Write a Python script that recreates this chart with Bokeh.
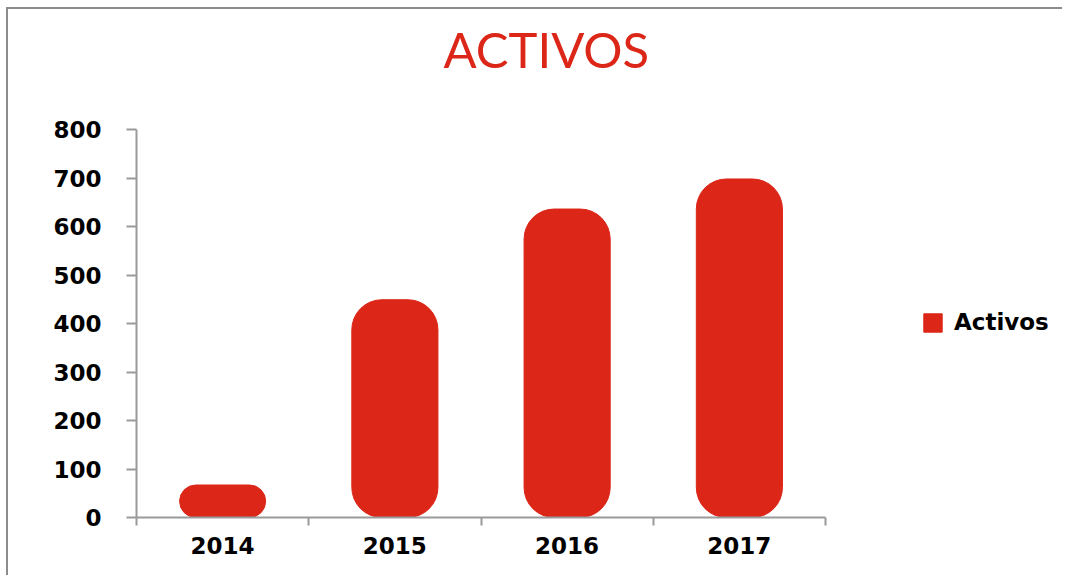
from bokeh.plotting import figure
from bokeh.models import Range1d, FixedTicker, Legend, LegendItem, Title
from bokeh.embed import file_html
from bokeh.resources import INLINE

# ---- data ----
years = ["2014", "2015", "2016", "2017"]
activos = [67, 449, 636, 698]
y_ticks = [0, 100, 200, 300, 400, 500, 600, 700, 800]
series_name = "Activos"
chart_title = "ACTIVOS"

RED = "#DC2618"
GRAY = "#9A9A9A"
FONT = "DejaVu Sans"

n = len(years)
xs = [i + 0.5 for i in range(n)]

# plot area: bars occupy 689 px of a 928 px wide frame; the rest holds the legend
AXIS_PX, FRAME_PX = 689, 928
x_end = n * FRAME_PX / AXIS_PX

p = figure(width=1056, height=568, output_backend="svg", toolbar_location=None,
           x_range=Range1d(0, x_end), y_range=Range1d(0, y_ticks[-1]),
           min_border_left=128, min_border_right=0,
           min_border_top=120, min_border_bottom=60)
p.styles = {"border-top": "2px solid #8C8C8C", "border-left": "2px solid #8C8C8C",
            "margin-left": "6px", "margin-top": "7px"}

r = p.vbar(x=xs, top=activos, bottom=0, width=0.5, color=RED, border_radius=30)

p.title.text = chart_title
p.title.align = "left"
p.title.offset = 307
p.title.vertical_align = "top"
p.title.standoff = 20
p.title.text_font = "Lato"
p.title.text_font_size = "49px"
p.title.text_font_style = "normal"
p.title.text_color = RED

# empty spacer between the title and the plot area
p.add_layout(Title(text=" ", text_font_size="1px", standoff=37), "above")

p.xgrid.grid_line_color = None
p.ygrid.grid_line_color = None
p.outline_line_color = None

xa = p.xaxis[0]
xa.bounds = (0, n)
xa.ticker = FixedTicker(ticks=xs, minor_ticks=list(range(n + 1)))
xa.major_label_overrides = {x: y for x, y in zip(xs, years)}
xa.major_tick_line_color = None
xa.minor_tick_line_color = GRAY
xa.minor_tick_line_width = 2
xa.minor_tick_out = 8
xa.minor_tick_in = 0
xa.axis_line_color = GRAY
xa.axis_line_width = 2
xa.major_label_text_font = FONT
xa.major_label_text_font_style = "bold"
xa.major_label_text_font_size = "23px"
xa.major_label_text_color = "#000000"
xa.major_label_standoff = 11

ya = p.yaxis[0]
ya.ticker = FixedTicker(ticks=y_ticks)
ya.minor_tick_line_color = None
ya.major_tick_line_color = GRAY
ya.major_tick_line_width = 2
ya.major_tick_out = 10
ya.major_tick_in = 0
ya.axis_line_color = GRAY
ya.axis_line_width = 2
ya.major_label_text_font = FONT
ya.major_label_text_font_style = "bold"
ya.major_label_text_font_size = "23px"
ya.major_label_text_color = "#000000"
ya.major_label_standoff = 25

legend = Legend(items=[LegendItem(label=series_name, renderers=[r])],
                location=(785, 182), margin=0, glyph_width=23, glyph_height=23,
                label_standoff=10, padding=10, border_line_color=None,
                background_fill_alpha=0,
                label_text_font=FONT, label_text_font_style="bold",
                label_text_font_size="23px", label_text_color="#000000")
p.add_layout(legend)

open("out.html", "w").write(file_html(p, INLINE))
